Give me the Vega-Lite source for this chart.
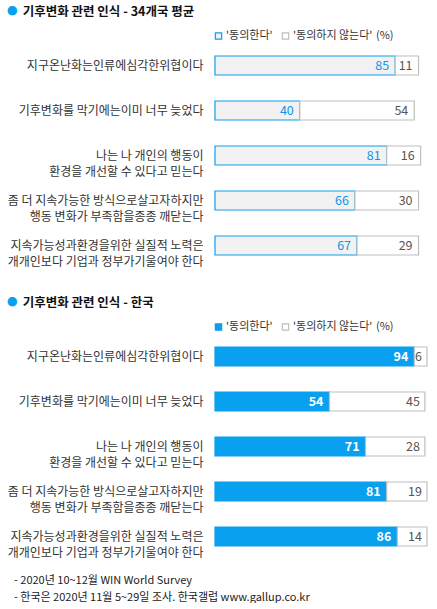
{
  "$schema": "https://vega.github.io/schema/vega-lite/v6.json",
  "background": "white",
  "padding": {"left": 7, "right": 10, "top": 5, "bottom": 0},
  "config": {
    "view": {"stroke": null},
    "font": "Noto Sans CJK KR",
    "axisY": {"domain": false, "ticks": false, "grid": false, "labelPadding": 12, "labelFontSize": 12, "labelColor": "#333333", "labelLineHeight": 16, "labelLimit": 400, "title": null, "minExtent": 208, "maxExtent": 208}
  },
  "datasets": {
    "world": [
      {"q": "지구온난화는인류에심각한위협이다", "type": "'동의한다'", "k": 1, "value": 85},
      {"q": "지구온난화는인류에심각한위협이다", "type": "'동의하지 않는다'", "k": 2, "value": 11},
      {"q": "기후변화를 막기에는이미 너무 늦었다", "type": "'동의한다'", "k": 1, "value": 40},
      {"q": "기후변화를 막기에는이미 너무 늦었다", "type": "'동의하지 않는다'", "k": 2, "value": 54},
      {"q": "나는 나 개인의 행동이|환경을 개선할 수 있다고 믿는다", "type": "'동의한다'", "k": 1, "value": 81},
      {"q": "나는 나 개인의 행동이|환경을 개선할 수 있다고 믿는다", "type": "'동의하지 않는다'", "k": 2, "value": 16},
      {"q": "좀 더 지속가능한 방식으로살고자하지만|행동 변화가 부족함을종종 깨닫는다", "type": "'동의한다'", "k": 1, "value": 66},
      {"q": "좀 더 지속가능한 방식으로살고자하지만|행동 변화가 부족함을종종 깨닫는다", "type": "'동의하지 않는다'", "k": 2, "value": 30},
      {"q": "지속가능성과환경을위한 실질적 노력은|개개인보다 기업과 정부가기울여야 한다", "type": "'동의한다'", "k": 1, "value": 67},
      {"q": "지속가능성과환경을위한 실질적 노력은|개개인보다 기업과 정부가기울여야 한다", "type": "'동의하지 않는다'", "k": 2, "value": 29}
    ],
    "korea": [
      {"q": "지구온난화는인류에심각한위협이다", "type": "'동의한다'", "k": 1, "value": 94},
      {"q": "지구온난화는인류에심각한위협이다", "type": "'동의하지 않는다'", "k": 2, "value": 6},
      {"q": "기후변화를 막기에는이미 너무 늦었다", "type": "'동의한다'", "k": 1, "value": 54},
      {"q": "기후변화를 막기에는이미 너무 늦었다", "type": "'동의하지 않는다'", "k": 2, "value": 45},
      {"q": "나는 나 개인의 행동이|환경을 개선할 수 있다고 믿는다", "type": "'동의한다'", "k": 1, "value": 71},
      {"q": "나는 나 개인의 행동이|환경을 개선할 수 있다고 믿는다", "type": "'동의하지 않는다'", "k": 2, "value": 28},
      {"q": "좀 더 지속가능한 방식으로살고자하지만|행동 변화가 부족함을종종 깨닫는다", "type": "'동의한다'", "k": 1, "value": 81},
      {"q": "좀 더 지속가능한 방식으로살고자하지만|행동 변화가 부족함을종종 깨닫는다", "type": "'동의하지 않는다'", "k": 2, "value": 19},
      {"q": "지속가능성과환경을위한 실질적 노력은|개개인보다 기업과 정부가기울여야 한다", "type": "'동의한다'", "k": 1, "value": 86},
      {"q": "지속가능성과환경을위한 실질적 노력은|개개인보다 기업과 정부가기울여야 한다", "type": "'동의하지 않는다'", "k": 2, "value": 14}
    ]
  },
  "title": {
    "text": ["- 2020년 10~12월 WIN World Survey", "- 한국은 2020년 11월 5~29일 조사. 한국갤럽 www.gallup.co.kr"],
    "orient": "bottom", "anchor": "start", "frame": "bounds",
    "fontSize": 11, "fontWeight": "normal", "color": "#222222", "lineHeight": 16.5, "offset": 16, "dx": 7
  },
  "spacing": 28,
  "resolve": {"scale": {"fill": "independent", "stroke": "independent"}, "legend": {"fill": "independent", "stroke": "independent"}},
  "vconcat": [
    {
      "width": 212,
      "height": 225,
      "data": {"name": "world"},
      "transform": [{"stack": "value", "groupby": ["q"], "sort": [{"field": "k", "order": "ascending"}], "as": ["v0", "v1"]}],
      "title": {
        "text": "\u2800\u00a0\u00a0기후변화 관련 인식 - 34개국 평균",
        "subtitle": "●",
        "anchor": "start", "frame": "bounds", "fontSize": 12.5, "fontWeight": "bold", "color": "#111111",
        "subtitleColor": "#0aa0f0", "subtitleFontSize": 10.5, "subtitlePadding": -11.5, "offset": 12, "dx": 0
      },
      "encoding": {
        "y": {"field": "q", "type": "nominal", "sort": null, "scale": {"paddingInner": 0.578, "paddingOuter": 0.289}, "axis": {"labelExpr": "split(datum.label, '|')"}}
      },
      "layer": [
        {
          "mark": {"type": "bar", "strokeWidth": 1.2},
          "encoding": {
            "x": {"field": "v0", "type": "quantitative", "scale": {"domain": [0, 100]}, "axis": null},
            "x2": {"field": "v1"},
            "fill": {"field": "type", "type": "nominal", "sort": null, "scale": {"domain": ["'동의한다'", "'동의하지 않는다'"], "range": ["#f2f2f2", "#ffffff"]},
              "legend": {"orient": "none", "legendX": -2, "legendY": -13, "direction": "horizontal", "symbolType": "square", "symbolSize": 40, "symbolStrokeWidth": 1.2, "title": "(%)", "titleOrient": "right", "titleFontSize": 11, "titleFontWeight": "normal", "titleColor": "#333333", "titlePadding": 4, "labelFontSize": 11, "labelColor": "#333333", "labelOffset": 2, "columnPadding": 6}},
            "stroke": {"field": "type", "type": "nominal", "sort": null, "scale": {"domain": ["'동의한다'", "'동의하지 않는다'"], "range": ["#0aa0f0", "#bfbfbf"]}}
          }
        },
        {
          "transform": [{"filter": "datum.k == 1"}],
          "mark": {"type": "text", "align": "right", "baseline": "middle", "dx": -6, "fontSize": 12.5, "color": "#0a96e6"},
          "encoding": {"x": {"field": "v1", "type": "quantitative"}, "text": {"field": "value", "type": "quantitative"}}
        },
        {
          "transform": [{"filter": "datum.k == 2"}],
          "mark": {"type": "text", "align": "right", "baseline": "middle", "dx": -6, "fontSize": 12.5, "color": "#555555"},
          "encoding": {"x": {"field": "v1", "type": "quantitative"}, "text": {"field": "value", "type": "quantitative"}}
        }
      ]
    },
    {
      "width": 212,
      "height": 225,
      "data": {"name": "korea"},
      "transform": [{"stack": "value", "groupby": ["q"], "sort": [{"field": "k", "order": "ascending"}], "as": ["v0", "v1"]}],
      "title": {
        "text": "\u2800\u00a0\u00a0기후변화 관련 인식 - 한국",
        "subtitle": "●",
        "anchor": "start", "frame": "bounds", "fontSize": 12.5, "fontWeight": "bold", "color": "#111111",
        "subtitleColor": "#0aa0f0", "subtitleFontSize": 10.5, "subtitlePadding": -11.5, "offset": 12, "dx": 0
      },
      "encoding": {
        "y": {"field": "q", "type": "nominal", "sort": null, "scale": {"paddingInner": 0.578, "paddingOuter": 0.289}, "axis": {"labelExpr": "split(datum.label, '|')"}}
      },
      "layer": [
        {
          "mark": {"type": "bar", "strokeWidth": 1.2},
          "encoding": {
            "x": {"field": "v0", "type": "quantitative", "scale": {"domain": [0, 100]}, "axis": null},
            "x2": {"field": "v1"},
            "fill": {"field": "type", "type": "nominal", "sort": null, "scale": {"domain": ["'동의한다'", "'동의하지 않는다'"], "range": ["#0aa0f0", "#ffffff"]},
              "legend": {"orient": "none", "legendX": -2, "legendY": -13, "direction": "horizontal", "symbolType": "square", "symbolSize": 40, "symbolStrokeWidth": 1.2, "title": "(%)", "titleOrient": "right", "titleFontSize": 11, "titleFontWeight": "normal", "titleColor": "#333333", "titlePadding": 4, "labelFontSize": 11, "labelColor": "#333333", "labelOffset": 2, "columnPadding": 6}},
            "stroke": {"field": "type", "type": "nominal", "sort": null, "scale": {"domain": ["'동의한다'", "'동의하지 않는다'"], "range": ["#0aa0f0", "#bfbfbf"]}}
          }
        },
        {
          "transform": [{"filter": "datum.k == 1"}],
          "mark": {"type": "text", "align": "right", "baseline": "middle", "dx": -6, "fontSize": 12.5, "fontWeight": "bold", "color": "#ffffff"},
          "encoding": {"x": {"field": "v1", "type": "quantitative"}, "text": {"field": "value", "type": "quantitative"}}
        },
        {
          "transform": [{"filter": "datum.k == 2"}],
          "mark": {"type": "text", "align": "right", "baseline": "middle", "dx": -5, "fontSize": 12.5, "color": "#555555"},
          "encoding": {"x": {"field": "v1", "type": "quantitative"}, "text": {"field": "value", "type": "quantitative"}}
        }
      ]
    }
  ]
}
